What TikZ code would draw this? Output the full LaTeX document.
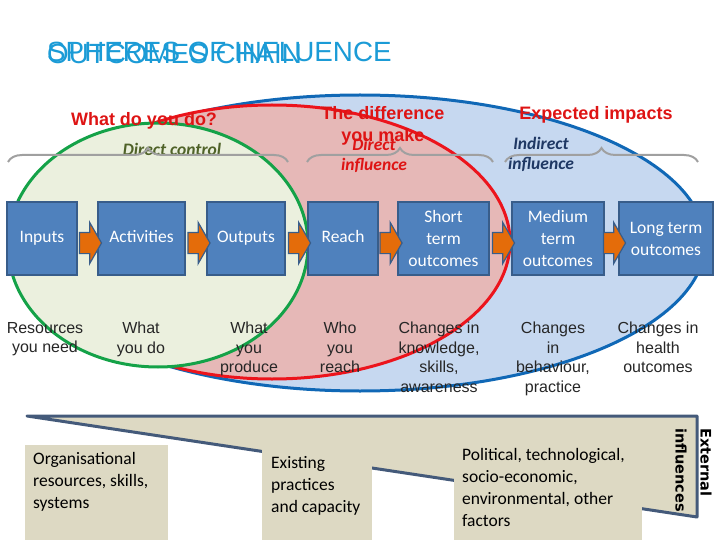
\documentclass[tikz,border=0pt]{standalone}
\usepackage{fontspec}
\setmainfont{Carlito}
\newfontfamily\arialfont{Liberation Sans}
\newfontfamily\dejavufont{DejaVu Sans}
\usetikzlibrary{shapes.arrows,decorations.pathreplacing,calc}

\definecolor{titleblue}{RGB}{27,155,214}
\definecolor{greenline}{RGB}{20,162,72}
\definecolor{greenfill}{RGB}{235,240,222}
\definecolor{redline}{RGB}{236,20,28}
\definecolor{redfill}{RGB}{230,184,183}
\definecolor{blueline}{RGB}{16,104,182}
\definecolor{bluefill}{RGB}{198,216,240}
\definecolor{boxfill}{RGB}{79,129,189}
\definecolor{boxline}{RGB}{56,93,138}
\definecolor{arrowfill}{RGB}{228,108,10}
\definecolor{headred}{RGB}{222,20,20}
\definecolor{olivetext}{RGB}{79,98,40}
\definecolor{navytext}{RGB}{31,56,100}
\definecolor{bracegray}{RGB}{160,160,160}
\definecolor{wedgefill}{RGB}{221,217,195}
\definecolor{wedgeline}{RGB}{68,90,122}

\tikzset{sphere:green/.style={draw=greenline,fill=greenfill,line width=3pt}}
\tikzset{sphere:red/.style={draw=redline,fill=redfill,line width=3pt}}
\tikzset{sphere:blue/.style={draw=blueline,fill=bluefill,line width=3pt}}
\tikzset{title:text/.style={anchor=base west,inner sep=0pt,text=titleblue,font=\arialfont\fontsize{27.8}{30}\selectfont}}
\tikzset{head:text/.style={text=headred,align=center,inner sep=0pt,font=\arialfont\bfseries\fontsize{18}{22}\selectfont}}
\tikzset{sphere:label/.style={align=center,inner sep=0pt,font=\bfseries\itshape\fontsize{17.5}{20}\selectfont}}
\tikzset{brace:style/.style={draw=bracegray,line width=2pt,decorate,decoration={brace,amplitude=14pt}}}
\tikzset{chain:box/.style={draw=boxline,fill=boxfill,line width=2pt,text=white,align=center,minimum height=73pt,inner sep=1pt,font=\fontsize{17.5}{22}\selectfont}}
\tikzset{chain:one/.style={text height=11pt,text depth=3pt}}
\tikzset{chain:arrow/.style={single arrow,draw=boxline,fill=arrowfill,line width=1.2pt,minimum height=22pt,minimum width=40pt,single arrow head extend=10pt,single arrow tip angle=120,inner xsep=0pt,inner ysep=10pt}}
\tikzset{chain:note/.style={anchor=north,align=center,inner sep=0pt,text=black!85,font=\arialfont\fontsize{16}{19.5}\selectfont}}
\tikzset{wedge:style/.style={draw=wedgeline,fill=wedgefill,line width=3pt,line join=round}}
\tikzset{factor:box/.style={fill=wedgefill,anchor=north west,inner sep=0pt,minimum height=120pt}}
\tikzset{factor:text/.style={anchor=north west,align=left,inner sep=0pt,font=\fontsize{17.5}{22}\selectfont}}

\begin{document}
\begin{tikzpicture}[x=1pt,y=-1pt]
	\useasboundingbox (0,0) rectangle (720,540);
	
	% spheres
	\draw[sphere:blue] (360,243) ellipse [x radius=345,y radius=148];
	\draw[sphere:red] (272,242) ellipse [x radius=238,y radius=137];
	\draw[sphere:green] (158,245) ellipse [x radius=150,y radius=122];
	
	% titles
	\path (47,62) node[title:text] (spheres) {SPHERES OF INFLUENCE};
	\path (47,64) node[title:text] (outcomes) {OUTCOMES CHAIN};
	
	% sphere labels and braces
	\path (172,149) node[sphere:label,text=olivetext] (control) {Direct control};
	\path (374,155) node[sphere:label,text=headred] (direct) {Direct\\influence};
	\path (541,154) node[sphere:label,text=navytext] (indirect) {Indirect\\influence};
	
	\path (8,162) coordinate (b1s) (288,162) coordinate (b1e)
		(307,162) coordinate (b2s) (493,162) coordinate (b2e)
		(505,162) coordinate (b3s) (698,162) coordinate (b3e);
	\draw[brace:style] (b1s) -- (b1e);
	\draw[brace:style] (b2s) -- (b2e);
	\draw[brace:style] (b3s) -- (b3e);
	
	\path (144,121) node[head:text] (whatdo) {What do you do?};
	\path (383,126) node[head:text] (difference) {The difference\\you make};
	\path (596,115) node[head:text] (impacts) {Expected impacts};
	
	% outcomes chain
	\path 
		(42,238.5) coordinate (cin)
		(141.5,238.5) coordinate (cact)
		(246,238.5) coordinate (cout)
		(343,238.5) coordinate (creach)
		(443.5,238.5) coordinate (cshort)
		(558,238.5) coordinate (cmed)
		(666,238.5) coordinate (clong);
	
	\path (cin) node[chain:box,chain:one,minimum width=70pt] (inputs) {Inputs};
	\path (cact) node[chain:box,chain:one,minimum width=87pt] (activities) {Activities};
	\path (cout) node[chain:box,chain:one,minimum width=78pt] (outputs) {Outputs};
	\path (creach) node[chain:box,chain:one,minimum width=70pt] (reach) {Reach};
	\path (cshort) node[chain:box,minimum width=91pt] (short) {Short\\term\\outcomes};
	\path (cmed) node[chain:box,minimum width=92pt] (medium) {Medium\\term\\outcomes};
	\path (clong) node[chain:box,minimum width=94pt] (long) {Long term\\outcomes};
	
	\path ($(inputs.east)!0.5!(activities.west)+(0,4.5)$) node[chain:arrow] (a1) {};
	\path ($(activities.east)!0.5!(outputs.west)+(0,4.5)$) node[chain:arrow] (a2) {};
	\path ($(outputs.east)!0.5!(reach.west)+(0,4.5)$) node[chain:arrow] (a3) {};
	\path ($(reach.east)!0.5!(short.west)+(0,4.5)$) node[chain:arrow] (a4) {};
	\path ($(short.east)!0.5!(medium.west)+(0,4.5)$) node[chain:arrow] (a5) {};
	\path ($(medium.east)!0.5!(long.west)+(0,4.5)$) node[chain:arrow] (a6) {};
	
	% what each step means
	\path (45,322) node[chain:note] (ninputs) {Resources\\you need};
	\path (141,322) node[chain:note] (nact) {What\\you do};
	\path (249,322) node[chain:note] (nout) {What\\you\\produce};
	\path (340,322) node[chain:note] (nreach) {Who\\you\\reach};
	\path (439,322) node[chain:note] (nshort) {Changes in\\knowledge,\\skills,\\awareness};
	\path (553,322) node[chain:note] (nmed) {Changes\\in\\behaviour,\\practice};
	\path (658,322) node[chain:note] (nlong) {Changes in\\health\\outcomes};
	
	% external influences
	\draw[wedge:style] (27,416) -- (697,416) -- (697,517) -- cycle;
	
	\path (25,445) node[factor:box,minimum width=143pt] (orgbox) {};
	\path (262,438) node[factor:box,minimum width=110pt] (practbox) {};
	\path (454,428) node[factor:box,minimum width=188pt] (polbox) {};
	
	\path (33,452) node[factor:text] (orgtext) {Organisational\\resources, skills,\\systems};
	\path (271,456) node[factor:text] (practtext) {Existing\\practices\\and capacity};
	\path (462,448) node[factor:text] (poltext) {Political, technological,\\socio-economic,\\environmental, other\\factors};
	
	\path (693.5,470) node[rotate=-90,align=left,inner sep=0pt,font=\dejavufont\bfseries\fontsize{14.5}{25}\selectfont] (external) {External\\influences};
	
\end{tikzpicture}
\end{document}
